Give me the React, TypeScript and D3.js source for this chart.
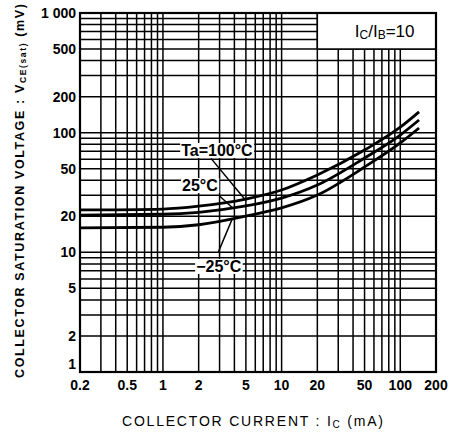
import * as d3 from 'd3';
import { useEffect, useRef } from 'react';

// collector current (mA)
const ic = [0.2, 1, 2, 5, 10, 20, 50, 100, 144];
// VCE(sat) in mV for each ambient temperature
const vce100 = [22.6, 23, 24.3, 27.9, 33.2, 44.3, 71.6, 111, 149];
const vce25 = [20.5, 20.8, 21.6, 24.4, 28.4, 36.5, 61.4, 95.6, 127.6];
const vceM25 = [16, 16.2, 17, 20.1, 23.5, 30.1, 51.6, 82, 109.4];

const xTicks = [0.2, 0.5, 1, 2, 5, 10, 20, 50, 100, 200];
const yTicks = [1, 2, 5, 10, 20, 50, 100, 200, 500, 1000];

// label anchors in data units: label centre, leader start, leader end current
const notes = [
  { text: 'Ta=100°C', ic: 2.85, v: 71.6, fromIc: 2.54, fromV: 61, toIc: 4.9, series: vce100 },
  { text: '25°C', ic: 2.05, v: 36.5, fromIc: 3.0, fromV: 29.6, toIc: 3.85, series: vce25 },
  { text: '−25°C', ic: 2.95, v: 7.7, fromIc: 2.91, fromV: 9.9, toIc: 3.85, series: vceM25 },
];

const at = (series: number[], c: number) => {
  const lc = Math.log10(c);
  for (let i = 0; i < ic.length - 1; i++) {
    const a = Math.log10(ic[i]), b = Math.log10(ic[i + 1]);
    if (lc >= a && lc <= b) {
      const t = (lc - a) / (b - a);
      return Math.pow(10, Math.log10(series[i]) * (1 - t) + Math.log10(series[i + 1]) * t);
    }
  }
  return series[series.length - 1];
};

const App = () => {
  const ref = useRef<SVGSVGElement>(null);

  useEffect(() => {
    const width = 462;
    const height = 434;
    const margin = { top: 13, right: 26, bottom: 62, left: 80 };

    const svg = d3.select(ref.current);
    svg.selectAll('*').remove();
    svg.attr('width', width).attr('height', height);

    const x = d3.scaleLog().domain([0.2, 200]).range([margin.left, width - margin.right]);
    const y = d3.scaleLog().domain([1, 1000]).range([height - margin.bottom, margin.top]);
    const font = "'Liberation Sans', Arial, sans-serif";

    // log grid
    const xGrid: number[] = [];
    const yGrid: number[] = [];
    [0.1, 1, 10, 100].forEach(d => d3.range(1, 10).forEach(m => {
      const v = +(d * m).toPrecision(3);
      if (v > 0.2 && v < 200) xGrid.push(v);
    }));
    [1, 10, 100].forEach(d => d3.range(1, 10).forEach(m => {
      const v = d * m;
      if (v > 1 && v < 1000) yGrid.push(v);
    }));

    const grid = svg.append('g').attr('stroke', '#000').attr('stroke-width', 1.5);
    grid.selectAll('line.v').data(xGrid).enter().append('line')
      .attr('x1', d => x(d)).attr('x2', d => x(d))
      .attr('y1', y(1)).attr('y2', y(1000));
    grid.selectAll('line.h').data(yGrid).enter().append('line')
      .attr('y1', d => y(d)).attr('y2', d => y(d))
      .attr('x1', x(0.2)).attr('x2', x(200));

    // condition box
    svg.append('rect')
      .attr('x', x(20)).attr('y', y(1000))
      .attr('width', x(200) - x(20)).attr('height', y(500) - y(1000))
      .attr('fill', '#fff').attr('stroke', '#000').attr('stroke-width', 1.5);
    const cond = svg.append('text')
      .attr('x', (x(20) + x(200)) / 2 + 8).attr('y', (y(1000) + y(500)) / 2 + 6)
      .attr('text-anchor', 'middle').attr('font-family', font).attr('font-size', 17);
    cond.append('tspan').text('I');
    cond.append('tspan').text('C').attr('font-size', 12).attr('dy', 2);
    cond.append('tspan').text('/I').attr('dy', -2);
    cond.append('tspan').text('B').attr('font-size', 12).attr('dy', 2);
    cond.append('tspan').text('=10').attr('dy', -2);

    // frame
    svg.append('rect')
      .attr('x', x(0.2)).attr('y', y(1000))
      .attr('width', x(200) - x(0.2)).attr('height', y(1) - y(1000))
      .attr('fill', 'none').attr('stroke', '#000').attr('stroke-width', 2.2);

    // curves
    const line = d3.line<number>()
      .x((_, i) => x(ic[i]))
      .y(d => y(d))
      .curve(d3.curveMonotoneX);
    [vce100, vce25, vceM25].forEach(s => {
      svg.append('path').attr('d', line(s)).attr('fill', 'none')
        .attr('stroke', '#000').attr('stroke-width', 2.8);
    });

    // curve labels with leaders
    notes.forEach(n => {
      svg.append('line')
        .attr('x1', x(n.fromIc)).attr('y1', y(n.fromV))
        .attr('x2', x(n.toIc)).attr('y2', y(at(n.series, n.toIc)))
        .attr('stroke', '#000').attr('stroke-width', 1.5);
      const g = svg.append('g');
      const bg = g.append('rect').attr('fill', '#fff');
      const t = g.append('text')
        .attr('x', x(n.ic)).attr('y', y(n.v) + 6)
        .attr('text-anchor', 'middle').attr('font-family', font)
        .attr('font-size', 16).attr('font-weight', 'bold').text(n.text);
      const b = (t.node() as SVGTextElement).getBBox();
      bg.attr('x', b.x - 1).attr('y', b.y + 1).attr('width', b.width + 2).attr('height', b.height - 2);
    });

    // tick labels
    svg.selectAll('text.xt').data(xTicks).enter().append('text')
      .attr('x', d => x(d)).attr('y', y(1) + 18)
      .attr('text-anchor', 'middle').attr('font-family', font)
      .attr('font-size', 14).attr('font-weight', 'bold')
      .text(d => String(d));
    svg.selectAll('text.yt').data(yTicks).enter().append('text')
      .attr('x', x(0.2) - 4).attr('y', d => Math.min(y(d) + 5, y(1) - 3))
      .attr('text-anchor', 'end').attr('font-family', font)
      .attr('font-size', 14).attr('font-weight', 'bold')
      .text(d => (d === 1000 ? '1 000' : String(d)));

    // axis titles
    const xt = svg.append('text')
      .attr('x', 122).attr('y', 426)
      .attr('textLength', 261).attr('lengthAdjust', 'spacing')
      .attr('font-family', font).attr('font-size', 14);
    xt.append('tspan').text('COLLECTOR  CURRENT : I');
    xt.append('tspan').text('C').attr('font-size', 10).attr('dy', 2);
    xt.append('tspan').text('  (mA)').attr('dy', -2);

    const yt = svg.append('text')
      .attr('transform', `translate(24, 378) rotate(-90)`)
      .attr('textLength', 374).attr('lengthAdjust', 'spacing')
      .attr('font-family', font)
      .attr('font-size', 12.5).attr('font-weight', 'bold');
    yt.append('tspan').text('COLLECTOR SATURATION VOLTAGE : V');
    yt.append('tspan').text('CE(sat)').attr('font-size', 8.5).attr('dy', 2);
    yt.append('tspan').text('  (mV)').attr('dy', -2);
  }, []);

  return (
    <div style={{ position: 'absolute', left: 0, top: 0, background: '#fff' }}>
      <svg ref={ref}></svg>
    </div>
  );
};

export default App;
